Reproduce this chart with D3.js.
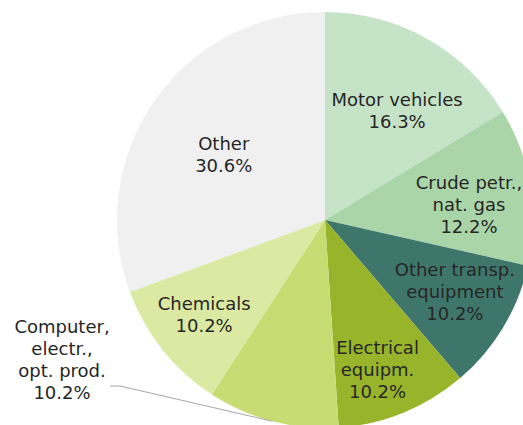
<!DOCTYPE html>
<html>
<head>
<meta charset="utf-8">
<script src="https://cdn.jsdelivr.net/npm/d3@7"></script>
<style>
  html, body { margin: 0; padding: 0; background: #ffffff; }
  svg { display: block; }
</style>
</head>
<body>
<svg id="chart" width="523" height="425"></svg>
<script>
// Sectors in clockwise order, starting at 12 o'clock
const categories = [
  "Motor vehicles",
  "Crude petr., nat. gas",
  "Other transp. equipment",
  "Electrical equipm.",
  "Computer, electr., opt. prod.",
  "Chemicals",
  "Other"
];
const labelLines = [
  ["Motor vehicles"],
  ["Crude petr.,", "nat. gas"],
  ["Other transp.", "equipment"],
  ["Electrical", "equipm."],
  ["Computer,", "electr.,", "opt. prod."],
  ["Chemicals"],
  ["Other"]
];
const shares = [16.3, 12.2, 10.2, 10.2, 10.2, 10.2, 30.6];
const colors = ["#c5e3c6", "#aad5a8", "#3f766b", "#98b42b", "#c8dc74", "#dce9a2", "#f0f0f0"];

const cx = 325, cy = 220, R = 208;

const svg = d3.select("#chart");
const g = svg.append("g").attr("transform", `translate(${cx},${cy})`);

const pie = d3.pie().sort(null).value(d => d.value);
const data = pie(categories.map((c, i) => ({ name: c, value: shares[i], lines: labelLines[i], color: colors[i] })));

const arc = d3.arc().innerRadius(0).outerRadius(R);

g.selectAll("path.slice")
  .data(data)
  .join("path")
  .attr("class", "slice")
  .attr("d", arc)
  .attr("fill", d => d.data.color);

// Label placement: radius as a fraction of R and a small angular nudge (degrees)
// from the sector's mid-angle; null radius = outside label with leader line
const labelRadius = [0.632, 0.696, 0.713, 0.762, null, 0.739, 0.579];
const labelNudge  = [3.9, 3.3, -2.2, 2.8, 0, 0.5, -2.1];
const lineH = 22;
const fmt = v => v.toFixed(1) + "%";

data.forEach((d, i) => {
  const lines = d.data.lines.concat([fmt(d.data.value)]);
  const mid = (d.startAngle + d.endAngle) / 2;
  let x, y;
  if (labelRadius[i] !== null) {
    const a = mid + labelNudge[i] * Math.PI / 180;
    const r = R * labelRadius[i];
    x = r * Math.sin(a);
    y = -r * Math.cos(a);
  } else {
    // outside label with a leader line to the sector's outer edge
    const ex = R * Math.sin(mid), ey = -R * Math.cos(mid);
    x = 62 - cx;
    y = 359.5 - cy;
    const sx = 110 - cx, sy = 386 - cy;
    g.append("polyline")
      .attr("points", [[sx, sy], [sx + 10, sy], [ex, ey]].map(p => p.join(",")).join(" "))
      .attr("fill", "none")
      .attr("stroke", "#a6a6a6")
      .attr("stroke-width", 1);
  }
  const t = g.append("text")
    .attr("text-anchor", "middle")
    .attr("font-family", "'DejaVu Sans', sans-serif")
    .attr("font-size", 18)
    .attr("fill", "#262626");
  const y0 = y - (lines.length - 1) * lineH / 2 + 6.5;
  lines.forEach((ln, k) => {
    t.append("tspan").attr("x", x).attr("y", y0 + k * lineH).text(ln);
  });
});
</script>
</body>
</html>
